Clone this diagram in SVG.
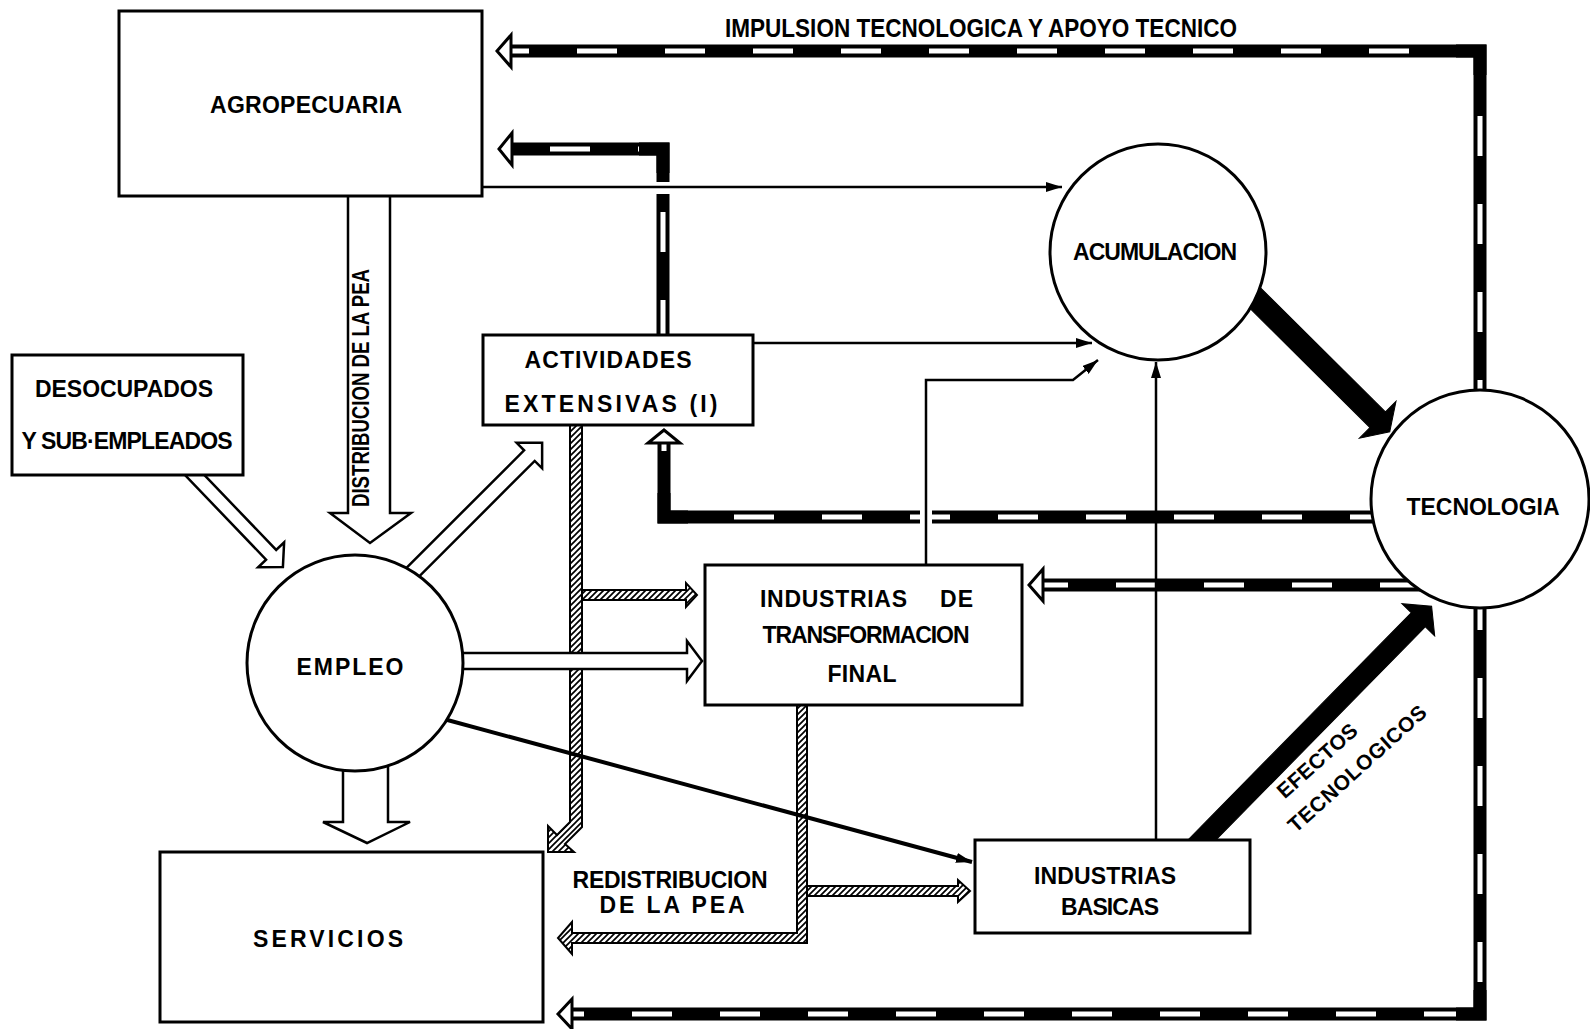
<svg xmlns="http://www.w3.org/2000/svg" width="1590" height="1029" viewBox="0 0 1590 1029">
<style>
.box{fill:#fff;stroke:#000;stroke-width:3}
.lbl{font-family:"Liberation Sans",Arial,sans-serif;font-weight:bold;font-size:23px;fill:#000}
.thin{fill:none;stroke:#000;stroke-width:2.5;marker-end:url(#ah)}
.hollow{fill:#fff;stroke:#000;stroke-width:2.5;stroke-linejoin:miter}
.solid{fill:#000;stroke:#000;stroke-width:1}
.dashB{fill:none;stroke:#000;stroke-width:13;stroke-linejoin:miter}
.dashW{fill:none;stroke:#fff;stroke-width:5;stroke-dasharray:40 48}
.dhead{fill:#fff;stroke:#000;stroke-width:3;stroke-linejoin:miter}
.hatch{fill:url(#hp);stroke:#000;stroke-width:2}
.gap{fill:#fff;stroke:none}
</style>
<defs>
<marker id="ah" markerUnits="userSpaceOnUse" viewBox="0 0 16 10" markerWidth="16" markerHeight="10" refX="16" refY="5" orient="auto">
<path d="M0,0 L16,5 L0,10 z" fill="#000"/>
</marker>
<pattern id="hp" patternUnits="userSpaceOnUse" width="6" height="6">
<rect width="6" height="6" fill="#fff"/>
<path d="M-1,1 L1,-1 M0,6 L6,0 M5,7 L7,5" stroke="#000" stroke-width="1.7"/>
</pattern>
</defs>
<rect width="1590" height="1029" fill="#fff"/>

<g id="connectors">
  <!-- dashed technology arrows -->
  <path class="dashB" d="M1480,420 L1480,51 L510,51"/>
  <path class="dashW" d="M1480,420 L1480,51 L510,51"/>
  <path class="dashB" d="M1480,75 L1480,51 L1456,51"/>
  <polygon class="dhead" points="497,51 511,35 511,67"/>

  <path class="dashB" d="M1480,590 L1480,1014 L572,1014"/>
  <path class="dashW" d="M1480,590 L1480,1014 L572,1014"/>
  <path class="dashB" d="M1480,990 L1480,1014 L1456,1014"/>
  <polygon class="dhead" points="558,1014 572,999 572,1029"/>

  <path class="dashB" d="M663,340 L663,149 L512,149"/>
  <path class="dashW" d="M663,340 L663,149 L512,149"/>
  <path class="dashB" d="M663,173 L663,149 L639,149"/>
  <polygon class="dhead" points="499,149 512,133 512,165"/>
  <rect class="gap" x="655" y="182" width="16" height="12"/>

  <path class="dashB" d="M1390,517 L664,517 L664,443"/>
  <path class="dashW" d="M1390,517 L664,517 L664,443"/>
  <path class="dashB" d="M688,517 L664,517 L664,493"/>
  <polygon class="dhead" points="664,430 648,443 680,443"/>
  <rect class="gap" x="920" y="509" width="12" height="16"/>

  <path class="dashB" d="M1420,585 L1043,585"/>
  <path class="dashW" d="M1420,585 L1043,585"/>
  <polygon class="dhead" points="1029,585 1043,569 1043,601"/>

  <!-- hatched redistribution arrows -->
  <polygon class="hatch" points="570,420 582,420 582,827 565,844 574,852 548,852 548,826 557,835 570,822"/>
  <polygon class="hatch" points="582,590 686,590 686,583 697,595 686,607 686,600 582,600"/>
  <polygon class="hatch" points="797,700 807,700 807,943 572,943 572,954 558,938 572,922 572,933 797,933"/>
  <polygon class="hatch" points="807,886 958,886 958,880 970,891 958,902 958,896 807,896"/>

  <!-- hollow block arrows -->
  <polygon class="hollow" points="348,190 390,190 390,513 411,513 370,543 330,513 348,513"/>
  <polygon class="hollow" points="343,760 388,760 388,822 410,822 367,843 323,822 343,822"/>
  <polygon class="hollow" points="455,653 687,653 687,641 702,661 687,681 687,669 455,669"/>
  <polygon class="hollow" transform="translate(186,466) rotate(46.2)" points="0,-7 123,-7 123,-18 140,0 123,18 123,7 0,7"/>
  <polygon class="hollow" transform="translate(400,585) rotate(-45)" points="0,-7.5 183,-7.5 183,-18 201,0 183,18 183,7.5 0,7.5"/>

  <!-- thick black arrows -->
  <polygon class="solid" transform="translate(1245,288) rotate(44.8)" points="0,-11 187,-11 187,-26 204,0 187,26 187,11 0,11"/>
  <polygon class="solid" transform="translate(1194,848) rotate(-45.5)" points="0,-10 320,-10 320,-23 339,0 320,23 320,10 0,10"/>

  <!-- thin arrows -->
  <path class="thin" d="M470,187 L1062,187"/>
  <path class="thin" d="M745,343 L1092,343"/>
  <path class="thin" d="M926,570 L926,380 L1073,380 L1098,360"/>
  <path class="thin" d="M1156,845 L1156,362"/>
  <path class="thin" style="stroke-width:4" d="M440,718 L972,862"/>

  <!-- connector labels -->
  <text class="lbl" x="981" y="37" text-anchor="middle" style="font-size:25px" textLength="512" lengthAdjust="spacingAndGlyphs">IMPULSION TECNOLOGICA Y APOYO TECNICO</text>
  <text class="lbl" transform="translate(369,388) rotate(-90)" x="0" y="0" text-anchor="middle" style="font-size:24px" textLength="238" lengthAdjust="spacingAndGlyphs">DISTRIBUCION DE LA PEA</text>
  <text class="lbl" x="670" y="888" text-anchor="middle" textLength="195" lengthAdjust="spacing">REDISTRIBUCION</text>
  <text class="lbl" x="672" y="913" text-anchor="middle" textLength="145" lengthAdjust="spacing">DE LA PEA</text>
  <text class="lbl" transform="translate(1322,766) rotate(-42)" x="0" y="0" text-anchor="middle" style="font-size:21px" textLength="100" lengthAdjust="spacing">EFECTOS</text>
  <text class="lbl" transform="translate(1362,774) rotate(-42)" x="0" y="0" text-anchor="middle" style="font-size:21px" textLength="178" lengthAdjust="spacing">TECNOLOGICOS</text>
</g>

<g id="agropecuaria">
  <rect class="box" x="119" y="11" width="363" height="185"/>
  <text class="lbl" x="306" y="113" text-anchor="middle" textLength="192" lengthAdjust="spacing">AGROPECUARIA</text>
</g>
<g id="desocupados">
  <rect class="box" x="12" y="355" width="231" height="120"/>
  <text class="lbl" x="124" y="397" text-anchor="middle" textLength="178" lengthAdjust="spacing">DESOCUPADOS</text>
  <text class="lbl" x="127" y="449" text-anchor="middle" textLength="211" lengthAdjust="spacing">Y SUB·EMPLEADOS</text>
</g>
<g id="actividades">
  <rect class="box" x="483" y="335" width="270" height="90"/>
  <text class="lbl" x="608" y="368" text-anchor="middle" textLength="167" lengthAdjust="spacing">ACTIVIDADES</text>
  <text class="lbl" x="611" y="412" text-anchor="middle" textLength="213" lengthAdjust="spacing">EXTENSIVAS (I)</text>
</g>
<g id="empleo">
  <circle class="box" cx="355" cy="663" r="108"/>
  <text class="lbl" x="350" y="675" text-anchor="middle" textLength="107" lengthAdjust="spacing">EMPLEO</text>
</g>
<g id="servicios">
  <rect class="box" x="160" y="852" width="383" height="170"/>
  <text class="lbl" x="328" y="947" text-anchor="middle" textLength="150" lengthAdjust="spacing">SERVICIOS</text>
</g>
<g id="acumulacion">
  <circle class="box" cx="1158" cy="252" r="108"/>
  <text class="lbl" x="1155" y="260" text-anchor="middle" textLength="164" lengthAdjust="spacing">ACUMULACION</text>
</g>
<g id="tecnologia">
  <circle class="box" cx="1480" cy="499" r="109"/>
  <text class="lbl" x="1483" y="515" text-anchor="middle" textLength="153" lengthAdjust="spacing">TECNOLOGIA</text>
</g>
<g id="industrias-transformacion">
  <rect class="box" x="705" y="565" width="317" height="140"/>
  <text class="lbl" y="607"><tspan x="760" textLength="147" lengthAdjust="spacing">INDUSTRIAS</tspan><tspan x="940" textLength="33" lengthAdjust="spacing">DE</tspan></text>
  <text class="lbl" x="866" y="643" text-anchor="middle" textLength="207" lengthAdjust="spacing">TRANSFORMACION</text>
  <text class="lbl" x="862" y="682" text-anchor="middle" textLength="69" lengthAdjust="spacing">FINAL</text>
</g>
<g id="industrias-basicas">
  <rect class="box" x="975" y="840" width="275" height="93"/>
  <text class="lbl" x="1105" y="884" text-anchor="middle" textLength="142" lengthAdjust="spacing">INDUSTRIAS</text>
  <text class="lbl" x="1110" y="915" text-anchor="middle" textLength="98" lengthAdjust="spacing">BASICAS</text>
</g>
</svg>
